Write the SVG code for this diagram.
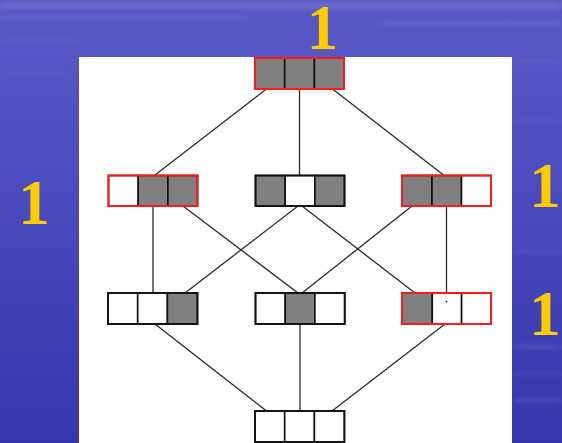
<svg xmlns="http://www.w3.org/2000/svg" width="562" height="443" viewBox="0 0 562 443">
  <defs>
    <linearGradient id="bg" x1="0" y1="0" x2="0" y2="1">
      <stop offset="0" stop-color="#5a5ac6"/>
      <stop offset="0.45" stop-color="#4a4abd"/>
      <stop offset="1" stop-color="#3636ad"/>
    </linearGradient>
    <filter id="soft" x="-10%" y="-300%" width="120%" height="700%">
      <feGaussianBlur stdDeviation="4 2"/>
    </filter>
    <style>
      .cell { stroke: #111; stroke-width: 1.6; }
      .on { fill: #808080; }
      .off { fill: #ffffff; }
      .frame { fill: none; stroke: #111; stroke-width: 1.8; }
      .frame.hot { stroke: #ff1a1a; stroke-width: 2; }
      .edge { stroke: #2a2a2a; stroke-width: 1.3; fill: none; }
      .count { font-family: "Liberation Serif", "Times New Roman", serif; font-weight: bold; font-size: 63px; fill: #ffcc00; text-anchor: middle; }
    </style>
  </defs>

  <!-- backdrop -->
  <rect width="562" height="443" fill="url(#bg)"/>
  <g filter="url(#soft)" fill="#ffffff">
    <rect x="0" y="3" width="562" height="5" opacity="0.14"/>
    <rect x="0" y="16" width="250" height="3" opacity="0.08"/>
    <rect x="380" y="22" width="182" height="3" opacity="0.10"/>
    <rect x="0" y="40" width="80" height="3" opacity="0.07"/>
    <rect x="0" y="72" width="70" height="2" opacity="0.06"/>
    <rect x="515" y="60" width="47" height="3" opacity="0.08"/>
    <rect x="515" y="120" width="47" height="2" opacity="0.07"/>
    <rect x="515" y="250" width="47" height="3" opacity="0.07"/>
    <rect x="515" y="345" width="47" height="4" opacity="0.10"/>
    <rect x="515" y="372" width="47" height="3" opacity="0.08"/>
    <rect x="515" y="398" width="47" height="4" opacity="0.10"/>
  </g>

  <!-- drawing panel -->
  <rect x="79" y="57" width="433" height="386" fill="#ffffff"/>

  <!-- connectors -->
  <g id="edges" class="edge">
    <line x1="266.5" y1="89" x2="155" y2="175"/>
    <line x1="299.5" y1="89" x2="299.5" y2="175"/>
    <line x1="332.5" y1="89" x2="443.5" y2="175"/>
    <line x1="153" y1="206" x2="153" y2="293"/>
    <line x1="183" y1="206" x2="298" y2="293"/>
    <line x1="298" y1="206" x2="185" y2="293"/>
    <line x1="302" y1="206" x2="415" y2="293"/>
    <line x1="412" y1="206" x2="302" y2="293"/>
    <line x1="446.5" y1="206" x2="446.5" y2="293"/>
    <line x1="155" y1="324" x2="266.5" y2="411"/>
    <line x1="300" y1="324" x2="300" y2="411"/>
    <line x1="445" y1="324" x2="332" y2="411"/>
  </g>

  <!-- 111 -->
  <g id="n111">
    <rect class="cell on" x="255" y="58" width="29.7" height="31"/>
    <rect class="cell on" x="284.7" y="58" width="29.7" height="31"/>
    <rect class="cell on" x="314.4" y="58" width="29.6" height="31"/>
    <rect class="frame hot" x="255" y="58" width="89" height="31"/>
  </g>

  <!-- 011 -->
  <g id="n011">
    <rect class="cell off" x="108.5" y="175.5" width="29.7" height="30.5"/>
    <rect class="cell on" x="138.2" y="175.5" width="29.7" height="30.5"/>
    <rect class="cell on" x="167.9" y="175.5" width="29.6" height="30.5"/>
    <rect class="frame hot" x="108.5" y="175.5" width="89" height="30.5"/>
  </g>

  <!-- 101 -->
  <g id="n101">
    <rect class="cell on" x="255.5" y="175.5" width="29.7" height="30.5"/>
    <rect class="cell off" x="285.2" y="175.5" width="29.7" height="30.5"/>
    <rect class="cell on" x="314.9" y="175.5" width="29.6" height="30.5"/>
    <rect class="frame" x="255.5" y="175.5" width="89" height="30.5"/>
  </g>

  <!-- 110 -->
  <g id="n110">
    <rect class="cell on" x="402" y="175.5" width="30" height="30.5"/>
    <rect class="cell on" x="432" y="175.5" width="29.5" height="30.5"/>
    <rect class="cell off" x="461.5" y="175.5" width="29.5" height="30.5"/>
    <rect class="frame hot" x="402" y="175.5" width="89" height="30.5"/>
  </g>

  <!-- 001 -->
  <g id="n001">
    <rect class="cell off" x="108" y="293" width="29.7" height="31"/>
    <rect class="cell off" x="137.7" y="293" width="29.7" height="31"/>
    <rect class="cell on" x="167.4" y="293" width="30" height="31"/>
    <rect class="frame" x="108" y="293" width="89.5" height="31"/>
  </g>

  <!-- 010 -->
  <g id="n010">
    <rect class="cell off" x="255.5" y="293" width="29.7" height="31"/>
    <rect class="cell on" x="285.2" y="293" width="29.7" height="31"/>
    <rect class="cell off" x="314.9" y="293" width="29.8" height="31"/>
    <rect class="frame" x="255.5" y="293" width="89.2" height="31"/>
  </g>

  <!-- 100 -->
  <g id="n100">
    <rect class="cell on" x="402" y="293" width="30.3" height="31"/>
    <rect class="cell off" x="432.3" y="293" width="29.3" height="31"/>
    <rect class="cell off" x="461.6" y="293" width="29.4" height="31"/>
    <rect class="frame hot" x="402" y="293" width="89" height="31"/>
    <circle cx="446.5" cy="301.5" r="0.9" fill="#333"/>
  </g>

  <!-- 000 -->
  <g id="n000">
    <rect class="cell off" x="255" y="411" width="29.7" height="31"/>
    <rect class="cell off" x="284.7" y="411" width="29.7" height="31"/>
    <rect class="cell off" x="314.4" y="411" width="30" height="31"/>
    <rect class="frame" x="255" y="411" width="89.4" height="31"/>
  </g>

  <!-- level counts -->
  <g id="counts">
    <text class="count" x="322.5" y="49" font-size="60">1</text>
    <text class="count" x="34" y="224">1</text>
    <text class="count" x="545" y="207">1</text>
    <text class="count" x="545" y="335">1</text>
  </g>
</svg>
